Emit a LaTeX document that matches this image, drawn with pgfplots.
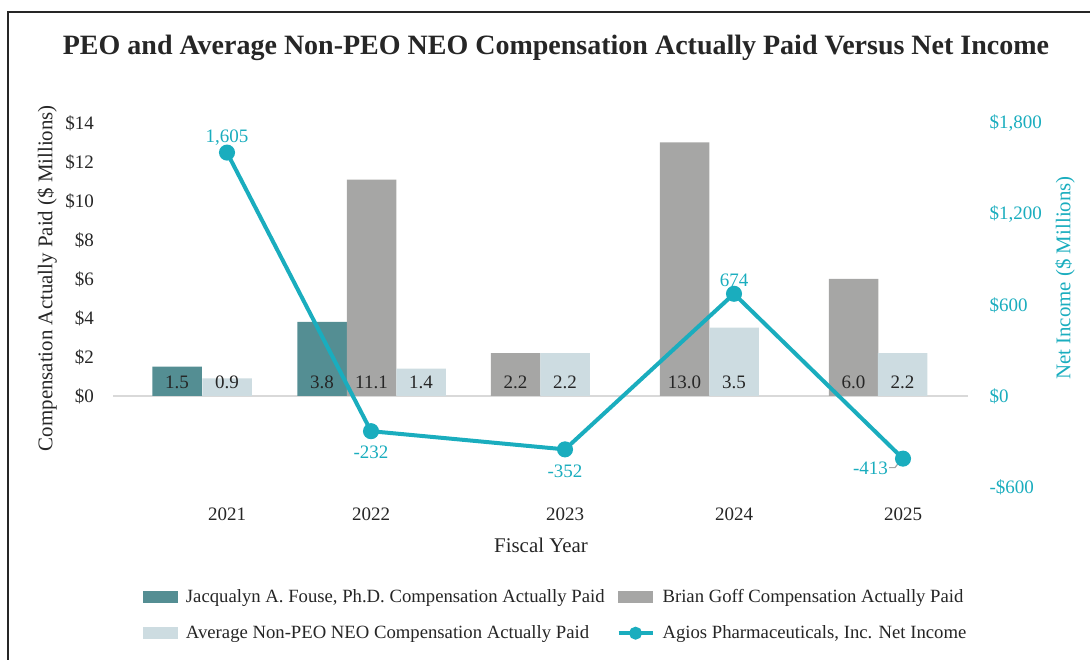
\documentclass[border=0pt]{standalone}
\usepackage{fontspec}
\setmainfont{Liberation Serif}
\usepackage{pgfplots}
\usepackage{pgfplotstable}
\pgfplotsset{compat=1.18}

\definecolor{peoteal}{HTML}{548E93}
\definecolor{goffgray}{HTML}{A6A6A5}
\definecolor{neolight}{HTML}{CDDCE1}
\definecolor{netcyan}{HTML}{1AADBE}
\definecolor{basegray}{HTML}{D9D9D9}
\definecolor{txt}{HTML}{262626}

\newcommand\lbl{\fontsize{9.5bp}{11.4bp}\selectfont}
\newcommand\axlbl{\fontsize{10.45bp}{12.5bp}\selectfont}

% x is in picture columns (1 unit = 1 px of the 1090 px wide chart)
\pgfplotstableread{
x y
177 1.5
322 3.8
}\fouse
\pgfplotstableread{
x y
371.5 11.1
515.5 2.2
684.5 13.0
853.5 6.0
}\goff
\pgfplotstableread{
x y
227 0.9
421 1.4
565 2.2
734 3.5
902.5 2.2
}\neo
\pgfplotstableread{
x y
227 1605
371 -232
565 -352
734 674
903 -413
}\netinc

\pgfplotsset{
  /pgf/number format/assume math mode=true,
  base/.style={
    at={(56.5bp,86.5bp)}, anchor=south west,
    scale only axis, width=427.5bp, height=182bp,
    xmin=113, xmax=968,
    axis line style={draw=none},
    major tick length=0pt,
    tick label style={font=\lbl, text=txt},
    label style={font=\axlbl, text=txt},
  },
  barlabels/.style={
    draw=none, fill=none, forget plot, point meta=explicit,
    nodes near coords={\pgfmathprintnumber[fixed,fixed zerofill,precision=1]{\pgfplotspointmeta}},
    every node near coord/.style={anchor=base, yshift=3.5bp, font=\lbl, text=txt},
  },
  netlabels/.style={
    draw=none, mark=none, forget plot, point meta=explicit,
    nodes near coords={\pgfmathprintnumber[int detect,1000 sep={,}]{\pgfplotspointmeta}},
    every node near coord/.style={font=\lbl, text=netcyan, #1},
  },
  swatch/.style={legend image code/.code={\fill[#1] (0cm,-0.1cm) rectangle (0.6cm,0.1cm);}},
}

\begin{document}
\begin{tikzpicture}
\path[use as bounding box] (0,0) rectangle (545bp,330bp);
\draw[black!85, line width=0.8bp] (545bp,324bp) -- (4bp,324bp) -- (4bp,0);
\node[font=\bfseries\fontsize{14bp}{16bp}\selectfont, text=txt] at (278bp,306bp)
  {PEO and Average Non-PEO NEO Compensation Actually Paid Versus Net Income};

% compensation (left axis)
\begin{axis}[base,
  ybar, bar shift=0pt, bar width=49.5,
  ymin=-4.6667, ymax=14,
  ytick={0,2,...,14},
  yticklabel={\$\pgfmathprintnumber{\tick}},
  yticklabel style={xshift=-6bp},
  extra y ticks={0}, extra y tick labels={},
  extra y tick style={grid=major, major grid style={basegray, line width=1bp}},
  xtick={227,371,565,734,903},
  xticklabels={2021,2022,2023,2024,2025},
  xticklabel style={yshift=-6.8bp},
  xlabel={Fiscal Year},
  xlabel style={at={(axis description cs:0.5006,-0.159)}, anchor=center},
  ylabel={Compensation Actually Paid (\$ Millions)},
  ylabel style={at={(axis description cs:-0.077,0.574)}, anchor=center},
]
\addplot[fill=peoteal, draw=none] table[x=x, y=y] {\fouse};
\addplot[fill=goffgray, draw=none] table[x=x, y=y] {\goff};
\addplot[fill=neolight, draw=none] table[x=x, y=y] {\neo};
\addplot[barlabels] table[x=x, y expr=0, meta=y] {\fouse};
\addplot[barlabels] table[x=x, y expr=0, meta=y] {\goff};
\addplot[barlabels] table[x=x, y expr=0, meta=y] {\neo};
\end{axis}

% net income (right axis)
\begin{axis}[base,
  axis x line=none, axis y line*=right,
  ymin=-600, ymax=1800,
  ytick={-600,0,600,1200,1800},
  yticklabels={-\$600,\$0,\$600,{\$1,200},{\$1,800}},
  yticklabel style={xshift=7.3bp, text=netcyan},
  ylabel={Net Income (\$ Millions)},
  ylabel style={at={(axis description cs:1.1135,0.574)}, anchor=center, text=netcyan},
  legend columns=2,
  legend cell align=left,
  legend style={at={(axis description cs:0.519,-0.352)}, anchor=center, draw=none,
    font=\fontsize{9.35bp}{11bp}\selectfont, text=txt,
    row sep=6bp,
    /tikz/every odd column/.append style={column sep=2bp},
    /tikz/every even column/.append style={column sep=4bp}},
]
\addlegendimage{swatch=peoteal}
\addlegendentry{Jacqualyn A. Fouse, Ph.D. Compensation Actually Paid}
\addlegendimage{swatch=goffgray}
\addlegendentry{Brian Goff Compensation Actually Paid}
\addlegendimage{swatch=neolight}
\addlegendentry{Average Non-PEO NEO Compensation Actually Paid}
\addplot[netcyan, line width=2bp, mark=*, mark size=3bp, mark options={draw=netcyan, fill=netcyan},
  legend image code/.code={
    \draw[netcyan, line width=2bp] (0cm,0cm) -- (0.6cm,0cm);
    \fill[netcyan] (0.3cm,0cm) circle (2.2bp);}]
  table[x=x, y=y] {\netinc};
\addlegendentry{Agios Pharmaceuticals, Inc. Net Income}
% value labels: above (2021, 2024), below (2022, 2023), left (2025)
\addplot[netlabels={anchor=south},
  skip coords between index={1}{3}, skip coords between index={4}{5}]
  table[x=x, y=y, meta=y] {\netinc};
\addplot[netlabels={anchor=north, yshift=-4bp},
  skip coords between index={0}{1}, skip coords between index={3}{5}]
  table[x=x, y=y, meta=y] {\netinc};
\addplot[netlabels={anchor=east, xshift=-4bp, yshift=-5bp},
  skip coords between index={0}{4}]
  table[x=x, y=y, meta=y] {\netinc};
\draw[gray!70, line width=0.6bp]
  ([shift={(-2.5bp,-2.5bp)}]axis cs:903,-413) -- ([shift={(-4bp,-4.5bp)}]axis cs:903,-413)
  -- ([shift={(-7bp,-4.5bp)}]axis cs:903,-413);
\end{axis}
\end{tikzpicture}
\end{document}
